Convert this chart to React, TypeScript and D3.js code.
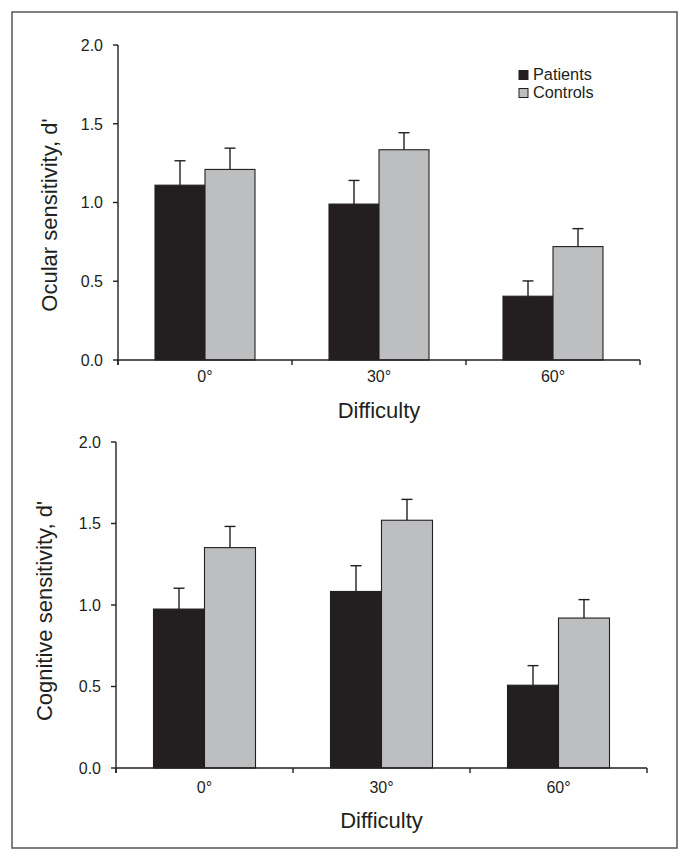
import React from "react";
import * as d3 from "d3";

const categories = ["0°", "30°", "60°"];
const seriesNames = ["Patients", "Controls"];
const seriesColors = ["#231f20", "#bcbec0"];
const yTicks = [0, 0.5, 1.0, 1.5, 2.0];

const ocularPatients = [1.11, 0.99, 0.405];
const ocularPatientsErr = [0.155, 0.15, 0.097];
const ocularControls = [1.21, 1.335, 0.72];
const ocularControlsErr = [0.135, 0.108, 0.114];

const cognitivePatients = [0.975, 1.083, 0.508];
const cognitivePatientsErr = [0.128, 0.158, 0.12];
const cognitiveControls = [1.352, 1.52, 0.92];
const cognitiveControlsErr = [0.13, 0.128, 0.113];

const FONT = "'Liberation Sans', Arial, Helvetica, sans-serif";
const INK = "#231f20";

type PanelProps = {
  left: number;
  right: number;
  top: number;
  bottom: number;
  barHalf: number;
  values: number[][];
  errors: number[][];
  yTitle: string;
  yTitleX: number;
  yTitleY: number;
  xTickBaseline: number;
  xTitleBaseline: number;
  legend?: { x: number; y: number };
};

function Panel(p: PanelProps) {
  const x = d3.scaleBand<string>().domain(categories).range([p.left, p.right]).padding(0);
  const y = d3.scaleLinear().domain([0, 2]).range([p.bottom, p.top]);
  const boundaries = [p.left, ...categories.map((c) => (x(c) as number) + x.bandwidth())];
  const sub = (c: string) =>
    d3
      .scaleBand<string>()
      .domain(seriesNames)
      .range([
        (x(c) as number) + x.bandwidth() / 2 - p.barHalf,
        (x(c) as number) + x.bandwidth() / 2 + p.barHalf,
      ]);
  return (
    <g>
      {categories.map((c, ci) => {
        const s = sub(c);
        return seriesNames.map((sn, si) => {
          const v = p.values[si][ci];
          const e = p.errors[si][ci];
          const bx = s(sn) as number;
          const bw = s.bandwidth();
          const cx = bx + bw / 2;
          return (
            <g key={c + sn}>
              <line x1={cx} x2={cx} y1={y(v)} y2={y(v + e)} stroke={INK} strokeWidth={1.4} />
              <line x1={cx - 5.5} x2={cx + 5.5} y1={y(v + e)} y2={y(v + e)} stroke={INK} strokeWidth={1.4} />
              <rect
                x={bx}
                y={y(v)}
                width={bw}
                height={y(0) - y(v)}
                fill={seriesColors[si]}
                stroke={INK}
                strokeWidth={1.1}
              />
            </g>
          );
        });
      })}
      {/* y axis */}
      <line x1={p.left} x2={p.left} y1={p.top} y2={p.bottom + 5} stroke={INK} strokeWidth={1.4} />
      {yTicks.map((t) => (
        <g key={t}>
          <line x1={p.left - 5} x2={p.left} y1={y(t)} y2={y(t)} stroke={INK} strokeWidth={1.4} />
          <text
            x={p.left - 15}
            y={y(t)}
            dy="0.36em"
            textAnchor="end"
            fontSize={16}
            fontFamily={FONT}
            fill={INK}
          >
            {d3.format(".1f")(t)}
          </text>
        </g>
      ))}
      {/* x axis */}
      <line x1={p.left} x2={p.right} y1={p.bottom} y2={p.bottom} stroke={INK} strokeWidth={1.4} />
      {boundaries.map((b, i) => (
        <line key={i} x1={b} x2={b} y1={p.bottom} y2={p.bottom + 5} stroke={INK} strokeWidth={1.4} />
      ))}
      {categories.map((c) => (
        <text
          key={c}
          x={(x(c) as number) + x.bandwidth() / 2}
          y={p.xTickBaseline}
          textAnchor="middle"
          fontSize={16}
          fontFamily={FONT}
          fill={INK}
        >
          {c}
        </text>
      ))}
      <text
        x={(p.left + p.right) / 2}
        y={p.xTitleBaseline}
        textAnchor="middle"
        fontSize={22}
        fontFamily={FONT}
        fill={INK}
      >
        Difficulty
      </text>
      <text
        transform={`translate(${p.yTitleX},${p.yTitleY}) rotate(-90)`}
        textAnchor="middle"
        fontSize={22}
        fontFamily={FONT}
        fill={INK}
      >
        {p.yTitle}
      </text>
      {p.legend &&
        seriesNames.map((sn, si) => (
          <g key={sn}>
            <rect
              x={p.legend!.x}
              y={p.legend!.y + si * 18 - 9}
              width={9}
              height={9}
              fill={seriesColors[si]}
              stroke={INK}
              strokeWidth={1}
            />
            <text
              x={p.legend!.x + 14}
              y={p.legend!.y + si * 18}
              fontSize={16.3}
              fontFamily={FONT}
              fill={INK}
            >
              {sn}
            </text>
          </g>
        ))}
    </g>
  );
}

export default function App() {
  return (
    <div style={{ position: "absolute", left: 0, top: 0 }}>
      <svg width={690} height={861} style={{ display: "block", background: "#fff" }}>
        <rect x={12} y={12} width={665} height={836} fill="#fff" stroke="#555" strokeWidth={1.5} />
        <Panel
          left={118}
          right={640}
          top={45}
          bottom={360}
          barHalf={50}
          values={[ocularPatients, ocularControls]}
          errors={[ocularPatientsErr, ocularControlsErr]}
          yTitle="Ocular sensitivity, d'"
          yTitleX={57}
          yTitleY={215}
          xTickBaseline={382}
          xTitleBaseline={418}
          legend={{ x: 519, y: 79.5 }}
        />
        <Panel
          left={116}
          right={647}
          top={442}
          bottom={768}
          barHalf={51}
          values={[cognitivePatients, cognitiveControls]}
          errors={[cognitivePatientsErr, cognitiveControlsErr]}
          yTitle="Cognitive sensitivity, d'"
          yTitleX={52}
          yTitleY={611}
          xTickBaseline={793}
          xTitleBaseline={828}
        />
      </svg>
    </div>
  );
}
